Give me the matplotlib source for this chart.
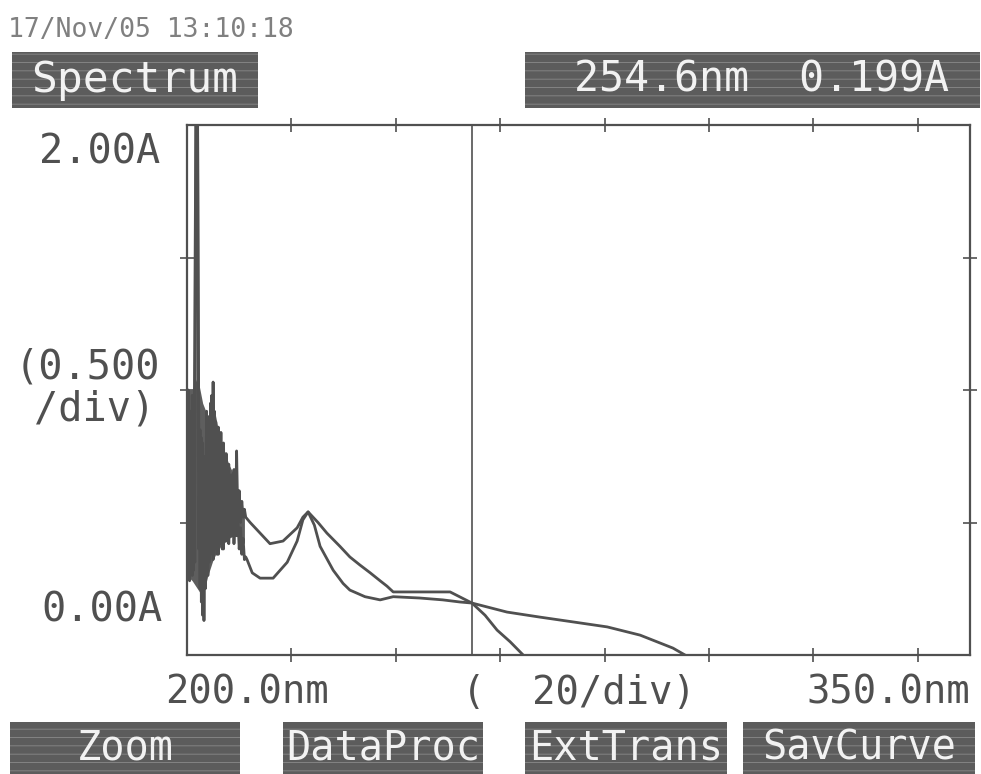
import matplotlib
matplotlib.use("Agg")
import matplotlib.pyplot as plt
from matplotlib.patches import Rectangle

# noisy start of the two scans (nm, A)
noise_wl = [200.0, 200.25, 200.5, 200.75, 201.0, 201.25, 201.5, 201.75, 202.0, 202.25,
            202.5, 202.75, 203.0, 203.25, 203.5, 203.75, 204.0, 204.25, 204.5, 204.75,
            205.0, 205.25, 205.5, 205.75, 206.0, 206.25, 206.5, 206.75, 207.0, 207.25,
            207.5, 207.75, 208.0, 208.25, 208.5, 208.75, 209.0, 209.25, 209.5, 209.75,
            210.0, 210.25, 210.5, 210.75, 211.0, 211.25]
noise_a = [0.95, 0.30, 0.90, 0.35, 0.98, 0.32, 1.30, 2.20, 2.20, 0.40,
           0.85, 0.20, 0.80, 0.13, 0.70, 0.30, 0.90, 0.35, 0.95, 0.40,
           1.03, 0.45, 0.88, 0.38, 0.86, 0.42, 0.84, 0.40, 0.80, 0.44,
           0.76, 0.46, 0.72, 0.45, 0.68, 0.48, 0.70, 0.46, 0.77, 0.50,
           0.62, 0.50, 0.58, 0.52, 0.55, 0.52]
noise_b = [0.40, 1.00, 0.28, 0.92, 0.30, 0.96, 0.35, 2.20, 2.20, 0.88,
           0.25, 0.82, 0.15, 0.75, 0.25, 0.92, 0.30, 0.85, 0.38, 0.98,
           0.36, 0.92, 0.40, 0.80, 0.38, 0.82, 0.42, 0.74, 0.40, 0.70,
           0.43, 0.66, 0.42, 0.62, 0.45, 0.60, 0.42, 0.56, 0.45, 0.52,
           0.40, 0.48, 0.38, 0.44, 0.36, 0.37]
# dark core of the noise band
band_wl = [200.0, 201.0, 202.0, 203.0, 204.0, 205.0, 206.0, 207.0, 208.0, 209.0, 210.0, 211.0]
band_hi = [1.00, 1.00, 1.05, 0.95, 0.90, 0.95, 0.85, 0.78, 0.72, 0.68, 0.60, 0.52]
band_lo = [0.30, 0.28, 0.25, 0.22, 0.30, 0.36, 0.40, 0.42, 0.44, 0.45, 0.45, 0.42]

# smooth part
wl_a = [212.1, 214.0, 215.9, 218.4, 221.1, 222.2, 223.2, 225.1, 226.8, 229.3,
        231.2, 233.1, 235.1, 237.0, 238.3, 239.5, 244.6, 250.4, 252.3, 254.6,
        257.1, 259.4, 261.9, 264.4]
abs_a = [0.50, 0.46, 0.42, 0.43, 0.48, 0.52, 0.54, 0.50, 0.46, 0.41,
         0.37, 0.34, 0.31, 0.28, 0.26, 0.238, 0.238, 0.238, 0.219, 0.196,
         0.15, 0.094, 0.05, 0.0]
wl_b = [211.5, 212.5, 214.0, 216.5, 219.2, 221.1, 222.2, 223.2, 224.4, 225.5,
        228.0, 229.9, 231.2, 234.1, 237.0, 239.5, 244.6, 249.0, 252.3, 254.6,
        261.3, 267.6, 273.9, 280.5, 286.8, 293.1, 295.4]
abs_b = [0.36, 0.31, 0.29, 0.29, 0.35, 0.43, 0.51, 0.54, 0.49, 0.41,
         0.32, 0.27, 0.245, 0.22, 0.208, 0.22, 0.215, 0.208, 0.20, 0.196,
         0.162, 0.143, 0.125, 0.106, 0.075, 0.026, 0.0]

cursor_nm = 254.6
cursor_abs = 0.199
x_ticks = [220, 240, 260, 280, 300, 320, 340]
y_ticks = [0.5, 1.0, 1.5]
buttons = ["Zoom", "DataProc", "ExtTrans", "SavCurve"]

W, H = 981, 774
ink = "#505050"
box_col = "#5c5c5c"
mono = "DejaVu Sans Mono"
plt.rcParams["hatch.linewidth"] = 0.6

fig = plt.figure(figsize=(W / 100, H / 100), dpi=100)


def fx(x):
    return x / W


def fy(y):
    return 1 - y / H


ax = fig.add_axes([fx(187), fy(655), fx(970) - fx(187), fy(125) - fy(655)])
ax.fill_between(band_wl, band_lo, band_hi, color="#5e5e5e", lw=0)
ax.plot(noise_wl + wl_a, noise_a + abs_a, color=ink, lw=2.0)
ax.plot(noise_wl + wl_b, noise_b + abs_b, color=ink, lw=2.0)
ax.axvline(cursor_nm, color=ink, lw=1.2)
ax.set_xlim(200, 350)
ax.set_ylim(0, 2.0)
ax.set_xticks(x_ticks)
ax.set_yticks(y_ticks)
ax.tick_params(direction="inout", length=10, width=1.2, color=ink,
               top=True, right=True, labelbottom=False, labelleft=False)
for s in ax.spines.values():
    s.set_color(ink)
    s.set_linewidth(1.6)

# header
fig.text(fx(8), fy(30), "17/Nov/05 13:10:18", family=mono, fontsize=19,
         color="#808080", va="center", ha="left")


def box(x0, x1, y0, y1, label, tx=None, size=29):
    fig.add_artist(Rectangle((fx(x0), fy(y1)), fx(x1) - fx(x0), fy(y0) - fy(y1),
                             transform=fig.transFigure, facecolor=box_col,
                             edgecolor="#8a8a8a", hatch="--", lw=0))
    cx = (x0 + x1) / 2 if tx is None else tx
    fig.text(fx(cx), fy((y0 + y1) / 2), label, family=mono, fontsize=size,
             color="#f2f2f2", ha="center", va="center")


box(12, 258, 52, 108, "Spectrum", size=31)
box(525, 980, 52, 108, "%.1fnm  %.3fA" % (cursor_nm, cursor_abs), tx=762, size=30)

# axis labels
lab = dict(family=mono, fontsize=29, color=ink, va="center")
fig.text(fx(160), fy(153), "2.00A", ha="right", **lab)
fig.text(fx(163), fy(610), "0.00A", ha="right", **lab)
fig.text(fx(160), fy(367), "(0.500", ha="right", **lab)
fig.text(fx(155), fy(410), "/div)", ha="right", **lab)
lab["fontsize"] = 28
fig.text(fx(165), fy(693), "200.0nm", ha="left", **lab)
fig.text(fx(462), fy(693), "(  20/div)", ha="left", **lab)
fig.text(fx(970), fy(693), "350.0nm", ha="right", **lab)

# soft keys
for (x0, x1), name in zip([(10, 240), (283, 483), (525, 727), (743, 975)], buttons):
    box(x0, x1, 722, 774, name)

fig.savefig("out.png", dpi=100)
